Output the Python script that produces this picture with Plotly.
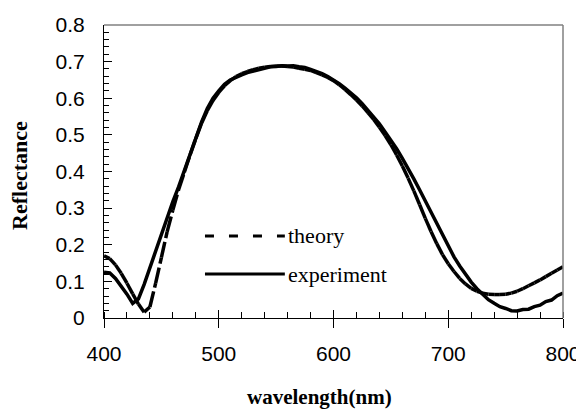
import plotly.graph_objects as go

# ---- data ----
wavelength = list(range(400, 805, 5))

theory = [0.170, 0.162, 0.145, 0.122, 0.095, 0.066, 0.038, 0.016, 0.030, 0.095,
          0.165, 0.235, 0.295, 0.350, 0.398, 0.445, 0.490, 0.532, 0.566, 0.594,
          0.616, 0.634, 0.648, 0.659, 0.667, 0.673, 0.678, 0.682, 0.685, 0.687,
          0.688, 0.688, 0.687, 0.685, 0.682, 0.679, 0.676, 0.670, 0.664, 0.657,
          0.648, 0.637, 0.624, 0.610, 0.595, 0.579, 0.561, 0.542, 0.521, 0.498,
          0.473, 0.445, 0.415, 0.382, 0.347, 0.310, 0.272, 0.236, 0.203, 0.173,
          0.148, 0.127, 0.108, 0.093, 0.081, 0.073, 0.068, 0.065, 0.064, 0.064,
          0.065, 0.068, 0.073, 0.080, 0.088, 0.096, 0.104, 0.113, 0.122, 0.131,
          0.140]

experiment = [0.125, 0.123, 0.108, 0.088, 0.065, 0.040, 0.052, 0.092, 0.138, 0.185,
              0.232, 0.276, 0.318, 0.358, 0.402, 0.447, 0.493, 0.535, 0.572, 0.600,
              0.620, 0.638, 0.650, 0.658, 0.664, 0.670, 0.674, 0.679, 0.682, 0.686,
              0.687, 0.689, 0.688, 0.689, 0.686, 0.684, 0.679, 0.674, 0.667, 0.659,
              0.650, 0.640, 0.628, 0.615, 0.601, 0.585, 0.567, 0.548, 0.530, 0.508,
              0.486, 0.462, 0.436, 0.409, 0.380, 0.350, 0.319, 0.287, 0.256, 0.225,
              0.196, 0.167, 0.142, 0.118, 0.098, 0.080, 0.064, 0.050, 0.040, 0.031,
              0.026, 0.020, 0.019, 0.023, 0.024, 0.031, 0.035, 0.045, 0.049, 0.061,
              0.068]

x_ticks = [400, 500, 600, 700, 800]
y_ticks = [0, 0.1, 0.2, 0.3, 0.4, 0.5, 0.6, 0.7, 0.8]
y_tick_text = ["0", "0.1", "0.2", "0.3", "0.4", "0.5", "0.6", "0.7", "0.8"]
series_names = ["theory", "experiment"]

# ---- figure ----
fig = go.Figure()

# theory: each data segment drawn as its own sub-path so the dash restarts per segment
tx, ty = [], []
for i in range(len(wavelength) - 1):
    tx += [wavelength[i], wavelength[i + 1], None]
    ty += [theory[i], theory[i + 1], None]

fig.add_trace(go.Scatter(x=tx, y=ty, mode="lines", name=series_names[0],
                         line=dict(color="black", width=3.5, dash="16px,4px"),
                         connectgaps=False, showlegend=False))
fig.add_trace(go.Scatter(x=wavelength, y=experiment, mode="lines", name=series_names[1],
                         line=dict(color="black", width=3.5), showlegend=False))

tick_font = dict(family="Arial, Liberation Sans, sans-serif", size=21, color="black")
serif = "Times New Roman, Liberation Serif, serif"

# page body has an 8px margin, so the figure is 8px smaller to fit the 584x413 window
fig.update_layout(
    width=576, height=405,
    margin=dict(l=96, r=21, t=17, b=95),
    paper_bgcolor="white", plot_bgcolor="white",
    showlegend=False,
    xaxis=dict(range=[400, 800], tickvals=x_ticks, ticks="outside", ticklen=9,
               tickcolor="black", tickwidth=1, showline=True, linecolor="black",
               linewidth=1, showgrid=False, zeroline=False, tickfont=tick_font,
               ticklabelstandoff=8, automargin=False,
               minor=dict(ticks="inside", dtick=20, tick0=400, ticklen=6,
                          tickcolor="black", tickwidth=1, showgrid=False)),
    xaxis2=dict(range=[400, 800], overlaying="x", anchor="y", side="bottom",
                tickvals=x_ticks, ticks="inside", ticklen=8, tickcolor="black",
                showticklabels=False, showline=False, showgrid=False, zeroline=False,
                automargin=False),
    yaxis=dict(range=[0, 0.8], tickvals=y_ticks, ticktext=y_tick_text,
               ticks="inside", ticklen=8, tickcolor="black", tickwidth=1,
               showline=True, linecolor="black", linewidth=1, showgrid=False,
               zeroline=False, tickfont=tick_font, ticklabelstandoff=14,
               automargin=False,
               minor=dict(ticks="inside", dtick=0.02, tick0=0, ticklen=5,
                          tickcolor="black", tickwidth=1, showgrid=False)),
)

# dummy trace so the overlay axis renders
fig.add_trace(go.Scatter(x=[400], y=[None], xaxis="x2", yaxis="y", showlegend=False,
                         hoverinfo="skip"))

# gray frame on top and right
fig.add_shape(type="line", xref="paper", yref="paper", x0=0, x1=1, y0=1, y1=1,
              line=dict(color="#808080", width=1.5))
fig.add_shape(type="line", xref="paper", yref="paper", x0=1, x1=1, y0=0, y1=1,
              line=dict(color="#808080", width=1.5))

# axis titles
fig.add_annotation(text="<b>wavelength(nm)</b>", xref="paper", yref="paper",
                   x=0.47, y=-0.27, xanchor="center", yanchor="middle", showarrow=False,
                   font=dict(family=serif, size=21, color="black"))
fig.add_annotation(text="<b>Reflectance</b>", xref="paper", yref="paper",
                   x=-0.183, y=0.485, xanchor="center", yanchor="middle", showarrow=False,
                   textangle=-90, font=dict(family=serif, size=22, color="black"))

# manual legend
leg_x0, leg_x1 = 0.220, 0.394
for yy, dash, name in [(0.280, "9px,15px", series_names[0]), (0.150, "solid", series_names[1])]:
    fig.add_shape(type="line", xref="paper", yref="paper", x0=leg_x0, x1=leg_x1,
                  y0=yy, y1=yy, line=dict(color="black", width=3, dash=dash))
    fig.add_annotation(text=name, xref="paper", yref="paper", x=leg_x1 + 0.003, y=yy,
                       xanchor="left", yanchor="middle", showarrow=False,
                       font=dict(family=serif, size=22, color="black"))

fig.write_html("out.html")
